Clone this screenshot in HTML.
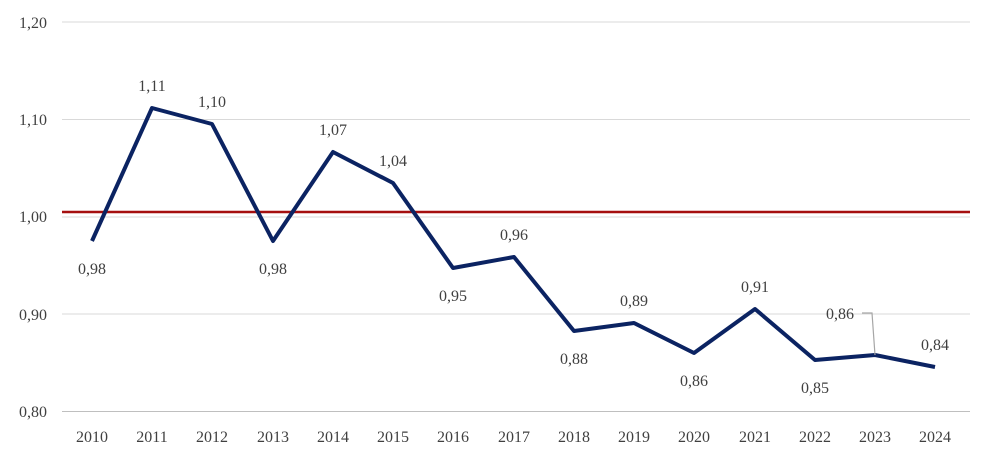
<!DOCTYPE html>
<html><head><meta charset="utf-8"><style>
body{margin:0;background:#fff}
svg text{font-family:"Liberation Serif",serif;font-size:16px;fill:#404040}
</style></head><body>
<svg width="990" height="457" viewBox="0 0 990 457">
<g stroke="#d9d9d9" stroke-width="1">
<line x1="62" y1="22" x2="970" y2="22"/>
<line x1="62" y1="119.5" x2="970" y2="119.5"/>
<line x1="62" y1="217" x2="970" y2="217"/>
<line x1="62" y1="314" x2="970" y2="314"/>
</g>
<line x1="62" y1="411.5" x2="970" y2="411.5" stroke="#bfbfbf" stroke-width="1"/>
<g text-anchor="end">
<text x="47" y="28">1,20</text>
<text x="47" y="125">1,10</text>
<text x="47" y="222">1,00</text>
<text x="47" y="320">0,90</text>
<text x="47" y="417">0,80</text>
</g>
<line x1="62" y1="212" x2="970" y2="212" stroke="#a50f0f" stroke-width="2.5"/>
<g text-anchor="middle">
<text x="92" y="442">2010</text><text x="152" y="442">2011</text><text x="212" y="442">2012</text>
<text x="273" y="442">2013</text><text x="333" y="442">2014</text><text x="393" y="442">2015</text>
<text x="453" y="442">2016</text><text x="514" y="442">2017</text><text x="574" y="442">2018</text>
<text x="634" y="442">2019</text><text x="694" y="442">2020</text><text x="755" y="442">2021</text>
<text x="815" y="442">2022</text><text x="875" y="442">2023</text><text x="935" y="442">2024</text>
</g>
<polyline fill="none" stroke="#0b2362" stroke-width="4" stroke-linejoin="round" points="92,241 152,108 212,124 273,241 333,152 393,183 453,268 514,257 574,331 634,323 694,353 755,309 815,360 875,355 935,367"/>
<polyline fill="none" stroke="#a6a6a6" stroke-width="1.2" points="862,313 872,313 875,355"/>
<g text-anchor="middle">
<text x="92" y="274">0,98</text><text x="152" y="91">1,11</text><text x="212" y="107">1,10</text>
<text x="273" y="274">0,98</text><text x="333" y="135">1,07</text><text x="393" y="166">1,04</text>
<text x="453" y="301">0,95</text><text x="514" y="240">0,96</text><text x="574" y="364">0,88</text>
<text x="634" y="306">0,89</text><text x="694" y="386">0,86</text><text x="755" y="292">0,91</text>
<text x="815" y="393">0,85</text><text x="840" y="319">0,86</text><text x="935" y="350">0,84</text>
</g>
</svg>
</body></html>
